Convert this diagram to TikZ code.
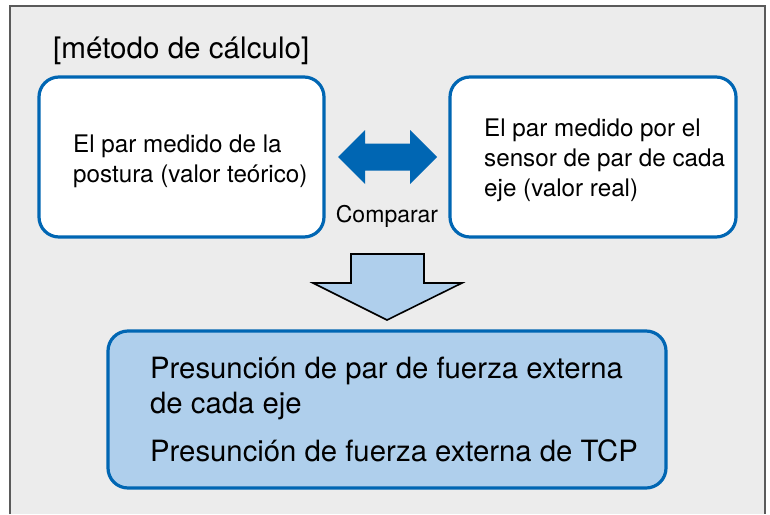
\documentclass[tikz,border=0pt]{standalone}
\usepackage{fontspec}
\setmainfont{TeX Gyre Heros}
\definecolor{bgc}{HTML}{ECECEC}
\definecolor{frc}{HTML}{5A5A5A}
\definecolor{bluec}{HTML}{0066B3}
\definecolor{lightc}{HTML}{AFCFEC}
\begin{document}
\begin{tikzpicture}[x=1pt,y=-1pt,
  whitebox/.style={draw=bluec,line width=3.2pt,fill=white,rounded corners=20pt,inner sep=0pt},
  bluebox/.style={draw=bluec,line width=3.2pt,fill=lightc,rounded corners=20pt,inner sep=0pt},
  smalltxt/.style={font=\fontsize{24.2}{30}\selectfont,align=left,inner sep=0pt},
  bigtxt/.style={font=\fontsize{29.3}{35}\selectfont,align=left,inner sep=0pt},
]
\useasboundingbox (0,0) rectangle (770,514);
\fill[bgc] (10,6) rectangle (765,514);
\draw[frc,line width=1.8pt] (10,514) -- (10,6) -- (765,6) -- (765,514);

\node[font=\fontsize{29.6}{35}\selectfont,anchor=base west,inner sep=0pt] (title) at (53,58) {[método de cálculo]};

\node[whitebox,minimum width=285pt,minimum height=160pt] (L) at (181.5,157) {};
\node[smalltxt,anchor=west] (Lt) at (73,161) {El par medido de la\\postura (valor teórico)};

\node[whitebox,minimum width=286pt,minimum height=160pt] (R) at (593,157) {};
\node[smalltxt,anchor=west] (Rt) at (484,160) {El par medido por el\\sensor de par de cada\\eje (valor real)};

\fill[bluec] (338,157) -- (365,130) -- (365,143.5) -- (410,143.5) -- (410,130) -- (437,157)
  -- (410,184) -- (410,170.5) -- (365,170.5) -- (365,184) -- cycle;
\node[font=\fontsize{23}{28}\selectfont,anchor=base,inner sep=0pt] (cmp) at (387,222) {Comparar};

\draw[black,line width=1.6pt,fill=lightc,line join=miter] (351,254) -- (424,254) -- (424,283) -- (462,283)
  -- (387,320) -- (313,283) -- (351,283) -- cycle;

\node[bluebox,minimum width=558pt,minimum height=157pt] (B) at (387,409.5) {};
\node[bigtxt,anchor=west] (Bt) at (150,409.5) {Presunción de par de fuerza externa\\de cada eje\\[13pt]Presunción de fuerza externa de TCP};
\end{tikzpicture}
\end{document}
